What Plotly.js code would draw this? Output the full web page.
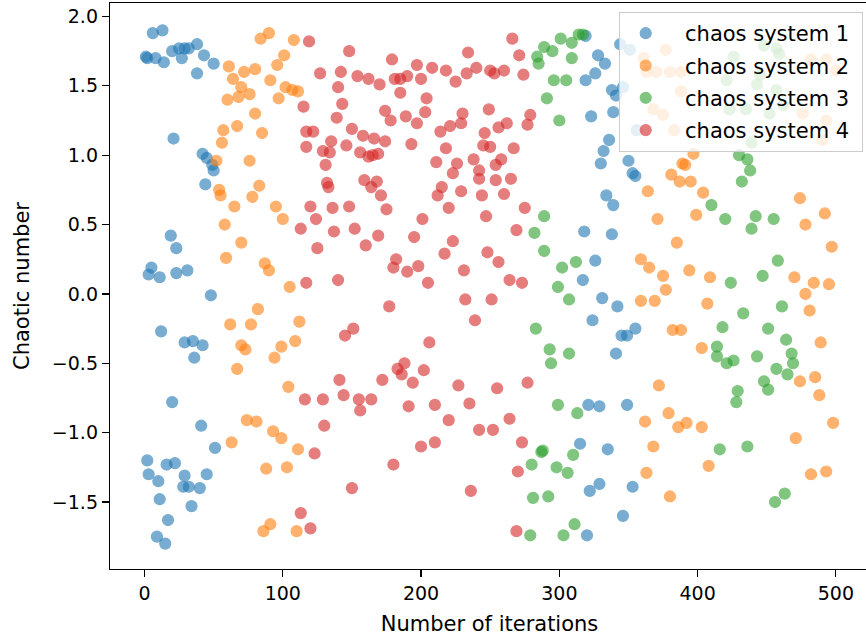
<!DOCTYPE html>
<html>
<head>
<meta charset="utf-8">
<script src="https://cdn.plot.ly/plotly-3.0.1.min.js"></script>
<style>
html,body{margin:0;padding:0;overflow:hidden;background:#fff;}
#chart{width:870px;height:641px;}
</style>
</head>
<body>
<div id="chart"></div>
<script>
// ---- data ----
const seriesNames = ['chaos system 1','chaos system 2','chaos system 3','chaos system 4'];
const seriesColors = ['#1f77b4','#ff7f0e','#2ca02c','#d62728'];

const blueX = [6,13,1,2,8,14,20,25,27,29,32,38,43,50,38,21,42,45,49,50,44,19,23,5,3,11,23,31,48,12,29,35,42,36,20,41,51,2,16,22,3,10,29,45,28,32,40,11,34,17,9,15,
  319,328,333,326,319,338,341,323,339,336,332,330,350,353,355,334,339,318,338,326,317,331,342,324,345,349,355,341,321,329,349,315,335,329,322,353,346,320,
  344,351,346,356];
const blueY = [1.88,1.90,1.71,1.70,1.70,1.67,1.75,1.77,1.70,1.77,1.77,1.80,1.72,1.66,1.59,1.12,1.01,0.98,0.93,0.89,0.79,0.42,0.33,0.19,0.14,0.12,0.15,0.17,-0.01,-0.27,-0.35,-0.34,-0.37,-0.46,-0.78,-0.95,-1.11,-1.20,-1.23,-1.22,-1.30,-1.35,-1.31,-1.30,-1.39,-1.39,-1.40,-1.48,-1.53,-1.63,-1.75,-1.80,
  1.86,1.72,1.66,1.59,1.54,1.47,1.43,1.28,1.31,1.11,1.03,0.94,0.96,0.87,0.85,0.71,0.64,0.45,0.43,0.24,0.10,-0.03,-0.09,-0.19,-0.30,-0.30,-0.25,-0.43,-0.80,-0.81,-0.80,-1.08,-1.12,-1.37,-1.42,-1.39,-1.60,-1.74,
  1.80,1.76,1.49,1.18];

const orangeX = [84,90,108,101,96,61,72,80,64,91,102,107,111,70,76,68,60,97,80,67,57,85,56,76,52,83,54,78,55,65,95,100,58,70,59,87,90,105,82,62,77,112,70,73,99,109,94,67,104,74,81,93,99,63,111,88,103,86,91,110,
  389,381,387,364,397,391,395,404,474,399,492,478,497,371,385,394,359,365,375,377,359,369,382,388,372,409,470,484,495,478,481,407,403,489,474,485,379,362,386,392,368,363,380,488,403,498,471,408,482,493,
  361,377,363,370,380,388,388,368,375,383,482,493,500,493,476,490];
const orangeY = [1.84,1.88,1.83,1.72,1.65,1.64,1.60,1.62,1.55,1.54,1.49,1.47,1.46,1.49,1.44,1.42,1.40,1.41,1.30,1.21,1.18,1.16,1.09,0.96,0.96,0.78,0.75,0.70,0.71,0.63,0.63,0.54,0.50,0.37,0.26,0.22,0.17,0.05,-0.11,-0.22,-0.22,-0.20,-0.37,-0.40,-0.38,-0.34,-0.46,-0.54,-0.67,-0.91,-0.92,-0.99,-1.04,-1.07,-1.12,-1.26,-1.25,-1.71,-1.66,-1.71,
  0.94,0.86,0.81,0.74,1.01,0.93,0.81,0.73,0.69,0.57,0.58,0.50,0.34,0.54,0.37,0.17,0.25,0.19,0.13,0.03,-0.05,-0.05,-0.26,-0.26,-0.66,0.12,0.12,0.08,0.07,0.00,-0.12,-0.07,-0.39,-0.35,-0.63,-0.60,-0.86,-0.92,-0.96,-0.93,-1.10,-1.29,-1.46,-0.73,-0.96,-0.93,-1.04,-1.24,-1.30,-1.28,
  1.70,1.76,1.60,1.60,1.60,1.60,1.46,1.33,1.29,1.18,1.69,1.69,1.61,1.25,1.30,1.11];

const greenX = [284,289,285,295,301,309,309,314,317,296,305,291,300,430,436,438,432,439,289,282,289,302,312,299,307,283,293,307,294,
  410,420,442,439,455,458,447,424,461,433,418,451,464,414,414,426,421,443,468,469,457,465,448,429,451,428,416,436,463,456,
  299,313,287,288,280,310,298,306,281,292,311,279,303,
  457,459,421,445,443,457,423,435,452,462,426,448];
const greenY = [1.71,1.78,1.66,1.75,1.84,1.81,1.70,1.87,1.87,1.54,1.54,1.41,1.25,1.00,0.97,0.89,0.81,1.09,0.56,0.44,0.31,0.19,0.23,0.05,-0.04,-0.25,-0.40,-0.43,-0.50,
  0.64,0.54,0.56,0.47,0.54,0.24,0.13,0.08,-0.09,-0.14,-0.24,-0.25,-0.33,-0.38,-0.45,-0.48,-0.50,-0.45,-0.43,-0.50,-0.54,-0.58,-0.63,-0.70,-0.69,-0.78,-1.12,-1.10,-1.44,-1.50,
  -0.80,-0.86,-1.14,-1.13,-1.23,-1.16,-1.25,-1.29,-1.47,-1.46,-1.66,-1.74,-1.74,
  1.77,1.73,1.54,1.58,1.51,1.47,1.33,1.33,1.30,1.36,1.71,1.79];

const redX = [119,115,117,117,148,179,234,127,142,154,162,170,181,185,190,197,200,208,218,225,233,240,250,253,185,140,143,204,203,174,178,189,197,230,229,221,214,249,256,139,122,150,158,166,174,146,129,135,134,131,156,162,169,165,193,218,246,245,211,226,223,238,242,242,254,254,132,133,159,164,168,171,215,212,229,244,
  266,271,260,274,279,277,262,250,267,258,265,260,
  120,136,148,175,220,247,124,201,113,137,152,169,195,223,160,125,217,248,256,182,180,190,198,231,205,117,140,232,251,177,239,151,145,206,188,183,186,202,141,172,194,227,255,
  275,269,264,273,277,116,113,120,129,144,155,156,164,191,210,235,220,130,242,252,123,200,210,180,150,236,264,273,270,269];
const redY = [1.82,1.35,1.17,1.06,1.75,1.69,1.74,1.59,1.60,1.57,1.55,1.51,1.55,1.55,1.57,1.65,1.55,1.63,1.61,1.53,1.59,1.63,1.61,1.59,1.45,1.49,1.37,1.41,1.31,1.32,1.25,1.28,1.23,1.30,1.23,1.21,1.17,1.33,1.20,1.27,1.17,1.19,1.14,1.12,1.10,1.07,1.03,1.10,1.02,0.93,1.02,0.99,1.01,1.00,1.08,1.05,1.16,1.07,0.95,0.94,0.87,0.97,0.89,0.83,0.93,0.82,0.80,0.77,0.82,0.77,0.81,0.71,0.77,0.71,0.74,0.71,
  1.84,1.72,1.61,1.58,1.29,1.22,1.23,1.06,1.05,0.97,0.83,0.72,
  0.63,0.62,0.63,0.61,0.62,0.56,0.54,0.54,0.47,0.45,0.47,0.42,0.41,0.38,0.35,0.33,0.29,0.30,0.23,0.25,0.19,0.16,0.20,0.17,0.08,0.08,0.10,-0.04,-0.04,-0.09,-0.19,-0.25,-0.30,-0.35,-0.50,-0.54,-0.58,-0.55,-0.62,-0.62,-0.64,-0.66,-0.68,
  0.62,0.46,0.10,0.08,-0.64,-0.76,-1.58,-1.69,-0.76,-0.73,-0.76,-0.84,-0.76,-0.81,-0.80,-0.79,-0.91,-0.95,-0.98,-0.98,-1.15,-1.10,-1.07,-1.23,-1.40,-1.42,-0.90,-1.07,-1.28,-1.71];

const xTicks = [0,100,200,300,400,500];
const yTicks = [-1.5,-1.0,-0.5,0.0,0.5,1.0,1.5,2.0];

// ---- chart ----
const xs = [blueX, orangeX, greenX, redX];
const ys = [blueY, orangeY, greenY, redY];
const FONT = 'DejaVu Sans, sans-serif';
const FS = 19;     // tick labels
const FL = 21;     // axis titles and legend

const traces = xs.map((x, i) => ({
  type: 'scatter', mode: 'markers', x: x, y: ys[i],
  name: '\u00a0\u00a0' + seriesNames[i] + '\u00a0', legendgroup: 'g' + i,
  marker: {color: seriesColors[i], size: 11, opacity: 0.6,
           line: {color: seriesColors[i], width: 1.2}}
}));

const axisCommon = {
  showgrid: false, zeroline: false, showline: true, mirror: true,
  linecolor: '#000', linewidth: 1.2, ticks: 'outside', ticklen: 7, tickwidth: 1.2,
  tickcolor: '#000', tickfont: {family: FONT, size: FS, color: '#000'}
};

const layout = {
  width: 870, height: 641,
  margin: {l: 110, r: 1, t: 3, b: 72},
  paper_bgcolor: '#fff', plot_bgcolor: '#fff',
  font: {family: FONT, size: FS, color: '#000'},
  showlegend: true,
  legend: {x: 0.9917, xanchor: 'right', y: 0.984, yanchor: 'top',
           bgcolor: 'rgba(255,255,255,0.8)', bordercolor: '#cccccc', borderwidth: 1,
           font: {family: FONT, size: FL, color: '#000'}, tracegroupgap: 2, itemwidth: 42},
  xaxis: Object.assign({}, axisCommon, {
    range: [-24.95, 523.95], tickvals: xTicks,
    title: {text: 'Number of iterations', font: {family: FONT, size: FL, color: '#000'}, standoff: 13}
  }),
  yaxis: Object.assign({}, axisCommon, {
    range: [-1.983, 2.097], tickvals: yTicks, tickformat: '.1f',
    title: {text: 'Chaotic number', font: {family: FONT, size: FL, color: '#000'}, standoff: 16}
  })
};

Plotly.newPlot('chart', traces, layout, {displayModeBar: false, staticPlot: true});
</script>
</body>
</html>
